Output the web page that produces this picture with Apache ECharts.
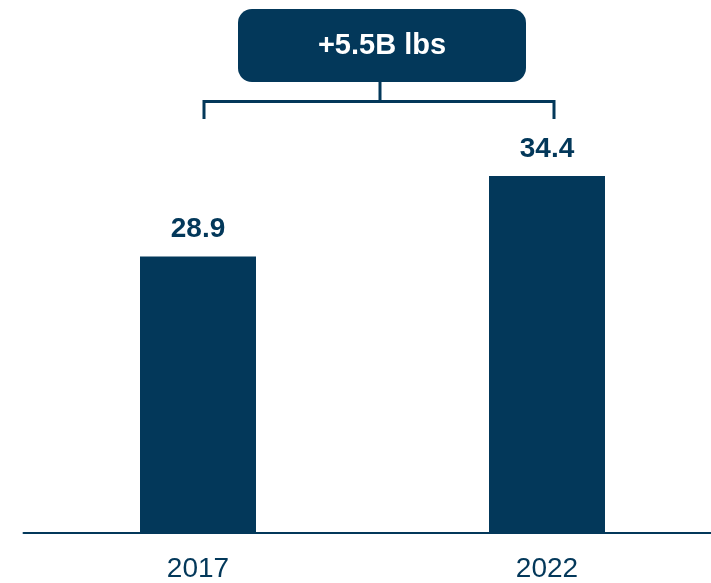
<!DOCTYPE html>
<html>
<head>
<meta charset="utf-8">
<script src="https://cdn.jsdelivr.net/npm/echarts@6/dist/echarts.min.js"></script>
<style>
  html, body { margin: 0; padding: 0; background: #ffffff; }
  #chart { width: 711px; height: 583px; }
</style>
</head>
<body>
<div id="chart"></div>
<script>
// Volume by year, billions of lbs
const years = ['2017', '2022'];
const volumes = [28.9, 34.4];

const NAVY = '#03385a';
const FONT = '"Liberation Sans", Arial, Helvetica, sans-serif';

const chart = echarts.init(document.getElementById('chart'), null, { renderer: 'canvas' });

const change = volumes[volumes.length - 1] - volumes[0];
const changeText = (change >= 0 ? '+' : '') + change.toFixed(1) + 'B lbs';

chart.setOption({
  animation: false,
  backgroundColor: '#ffffff',
  grid: {
    left: 23.5, width: 698, top: 94, bottom: 50,
    containLabel: false,
    outerBoundsMode: 'none'
  },
  xAxis: {
    type: 'category',
    data: years,
    axisLine: { show: true, lineStyle: { color: NAVY, width: 2 } },
    axisTick: { show: false },
    axisLabel: { color: NAVY, fontFamily: FONT, fontSize: 28, margin: 22 }
  },
  yAxis: {
    type: 'value',
    min: 10,
    max: 40,
    show: false,
    splitLine: { show: false }
  },
  series: [{
    type: 'bar',
    data: volumes,
    barWidth: 116,
    itemStyle: { color: NAVY },
    label: {
      show: true,
      position: 'top',
      distance: 13,
      color: NAVY,
      fontFamily: FONT,
      fontWeight: 'bold',
      fontSize: 28,
      formatter: p => p.value.toFixed(1)
    }
  }]
});

// Change callout: bracket spanning both bars, stem and rounded box
const p0 = chart.convertToPixel({ seriesIndex: 0 }, [0, volumes[0]]);
const p1 = chart.convertToPixel({ seriesIndex: 0 }, [1, volumes[1]]);
const xL = p0[0] + 6, xR = p1[0] + 7;
const xMid = (xL + xR) / 2 + 1;
const boxMid = xMid + 2;
const barY = 101.5, tickBottom = 119;
const boxW = 288, boxH = 73, boxTop = 9;

chart.setOption({
  graphic: [
    {
      type: 'polyline',
      shape: { points: [[xL, tickBottom], [xL, barY], [xR, barY], [xR, tickBottom]] },
      style: { stroke: NAVY, lineWidth: 3, fill: null }
    },
    {
      type: 'line',
      shape: { x1: xMid, y1: boxTop + boxH - 1, x2: xMid, y2: barY },
      style: { stroke: NAVY, lineWidth: 3 }
    },
    {
      type: 'rect',
      shape: { x: boxMid - boxW / 2, y: boxTop, width: boxW, height: boxH, r: 14 },
      style: { fill: NAVY }
    },
    {
      type: 'text',
      x: boxMid,
      y: boxTop + boxH / 2,
      style: {
        text: changeText,
        fill: '#ffffff',
        font: 'bold 29px ' + FONT,
        align: 'center',
        verticalAlign: 'middle'
      }
    }
  ]
});
</script>
</body>
</html>
